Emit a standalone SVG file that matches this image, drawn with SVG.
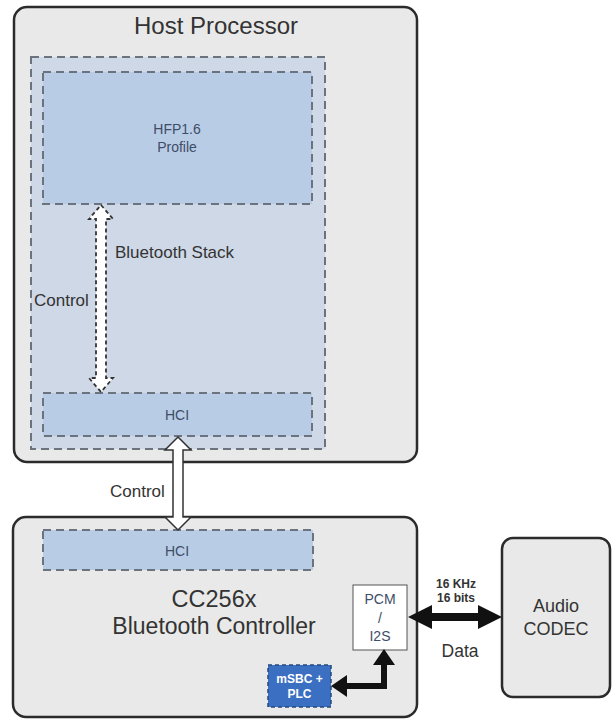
<svg xmlns="http://www.w3.org/2000/svg" width="616" height="719" viewBox="0 0 616 719">
<style>
.box{fill:#e9e9e9;stroke:#2b2b2b;stroke-width:2.5}
.dash{stroke:#6b747e;stroke-width:2;stroke-dasharray:8 5}
.t{font-family:"Liberation Sans",Arial,sans-serif;fill:#333}
.s{font-family:"Liberation Sans",Arial,sans-serif;fill:#3e4d68;font-size:14px;text-anchor:middle}
</style>
<rect width="616" height="719" fill="#ffffff"/>
<g id="host">
<rect class="box" x="14" y="7" width="403" height="455" rx="13"/>
<text class="t" x="216" y="34" font-size="24" text-anchor="middle">Host Processor</text>
</g>
<g id="stack">
<rect class="dash" x="31" y="57" width="294" height="392" fill="#cfd8e6"/>
<text class="t" x="115" y="258" font-size="17" fill="#2f3a4d">Bluetooth Stack</text>
</g>
<g id="hfp">
<rect class="dash" x="43" y="72" width="269" height="132" fill="#b9cce5"/>
<text class="s" x="177" y="134">HFP1.6</text>
<text class="s" x="177" y="152">Profile</text>
</g>
<g id="hci-host">
<rect class="dash" x="43" y="393" width="269" height="43" fill="#b9cce5"/>
<text class="s" x="177" y="420">HCI</text>
</g>
<g id="controller">
<rect class="box" x="13" y="517" width="404" height="200" rx="13"/>
<text class="t" x="214" y="607" font-size="23.500" text-anchor="middle">CC256x</text>
<text class="t" x="214" y="634" font-size="23" text-anchor="middle">Bluetooth Controller</text>
</g>
<g id="hci-ctrl">
<rect class="dash" x="43" y="530" width="270" height="40" fill="#b9cce5"/>
<text class="s" x="177" y="556">HCI</text>
</g>
<g id="pcm">
<rect x="353" y="585" width="54" height="65" fill="#ffffff" stroke="#555" stroke-width="1"/>
<text class="s" x="380" y="604" fill="#555">PCM</text>
<text class="s" x="380" y="623" fill="#555">/</text>
<text class="s" x="380" y="641" fill="#555">I2S</text>
</g>
<g id="msbc">
<rect x="268" y="665" width="63" height="42" fill="#3b6fc2" stroke="#24497f" stroke-width="1.5" stroke-dasharray="4 3"/>
<text x="299.500" y="683" font-family="Liberation Sans,Arial,sans-serif" font-size="12" font-weight="bold" fill="#ffffff" text-anchor="middle">mSBC +</text>
<text x="299.500" y="698" font-family="Liberation Sans,Arial,sans-serif" font-size="12" font-weight="bold" fill="#ffffff" text-anchor="middle">PLC</text>
</g>
<g id="codec">
<rect class="box" x="502" y="538" width="108" height="159" rx="11"/>
<text class="t" x="556" y="612" font-size="18" text-anchor="middle">Audio</text>
<text class="t" x="556" y="635" font-size="18" text-anchor="middle">CODEC</text>
</g>
<g id="connectors">
<polygon points="101,205 113,219 106,219 106,378 113,378 101,392 89,378 96,378 96,219 89,219" fill="#ffffff" stroke="#333" stroke-width="1.8" stroke-dasharray="4 3"/>
<text class="t" x="34" y="306" font-size="17">Control</text>
<polygon points="178,437 191,450 183,450 183,517 191,517 178,530 165,517 173,517 173,450 165,450" fill="#ffffff" stroke="#333" stroke-width="1.5"/>
<text class="t" x="110" y="497" font-size="17">Control</text>
<polygon points="408,617 432,605 432,613 478,613 478,605 502,617 478,629 478,621 432,621 432,629" fill="#111"/>
<text class="t" x="456" y="588" font-size="12" font-weight="bold" text-anchor="middle">16 KHz</text>
<text class="t" x="456" y="602" font-size="12" font-weight="bold" text-anchor="middle">16 bits</text>
<text class="t" x="460" y="657" font-size="17.500" text-anchor="middle">Data</text>
<path d="M344,686 H384 V662" fill="none" stroke="#111" stroke-width="6"/>
<polygon points="331,686 347,675 347,697" fill="#111"/>
<polygon points="384,649 373,665 395,665" fill="#111"/>
</g>
</svg>
